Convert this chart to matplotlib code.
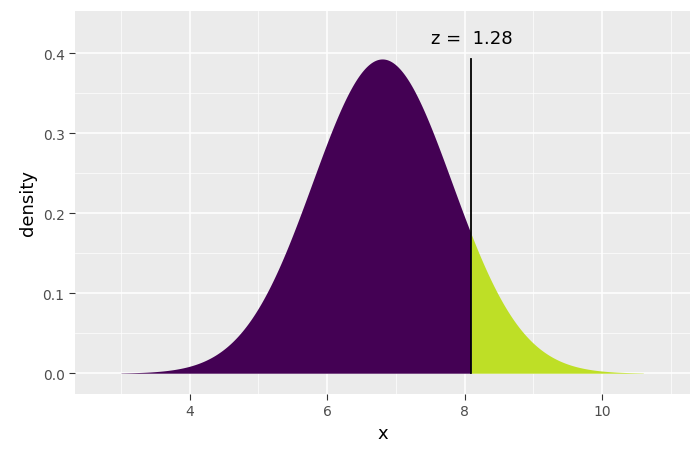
import numpy as np
import matplotlib
matplotlib.use("Agg")
import matplotlib.pyplot as plt

# distribution
mu = 6.8
sigma = 1.015
x_lo, x_hi = 3.0, 10.6
z_val = 1.28
x_cut = mu + z_val * sigma
x_ticks = [4, 6, 8, 10]
y_ticks = [0.0, 0.1, 0.2, 0.3, 0.4]

x = np.linspace(x_lo, x_hi, 400)
dens = np.exp(-0.5 * ((x - mu) / sigma) ** 2) / (sigma * np.sqrt(2 * np.pi))

fig = plt.figure(figsize=(7, 4.6), dpi=100)
ax = fig.add_axes([75 / 700, 65 / 460, 615 / 700, 383 / 460])
ax.set_facecolor("#EBEBEB")
for s in ax.spines.values():
    s.set_visible(False)

ax.set_xticks(np.arange(3, 12, 1), minor=True)
ax.set_yticks(np.arange(0.05, 0.45, 0.1), minor=True)
ax.grid(which="major", color="white", lw=1.1)
ax.grid(which="minor", color="white", lw=0.5)
ax.set_axisbelow(True)

left = x <= x_cut
ax.fill_between(x[left], 0, dens[left], color="#440154", lw=0)
xr = np.concatenate([[x_cut], x[~left]])
dr = np.exp(-0.5 * ((xr - mu) / sigma) ** 2) / (sigma * np.sqrt(2 * np.pi))
ax.fill_between(xr, 0, dr, color="#BEDF26", lw=0)
ax.plot([x_cut, x_cut], [0, dens.max()], color="black", lw=1.3)
ax.text(x_cut, 0.419, f"z =  {z_val:.2f}", ha="center", va="center", fontsize=13)

ax.set_xlim(2.33, 11.28)
ax.set_ylim(-0.026, 0.453)
ax.set_xticks(x_ticks)
ax.set_yticks(y_ticks)
ax.set_yticklabels([f"{v:.1f}" for v in y_ticks])
ax.tick_params(which="major", colors="#333333", labelsize=10, length=4, color="#333333")
ax.tick_params(which="minor", length=0)
for lab in ax.get_xticklabels() + ax.get_yticklabels():
    lab.set_color("#4D4D4D")
ax.set_xlabel("x", fontsize=13)
ax.set_ylabel("density", fontsize=13)

fig.savefig("out.png", dpi=100)
